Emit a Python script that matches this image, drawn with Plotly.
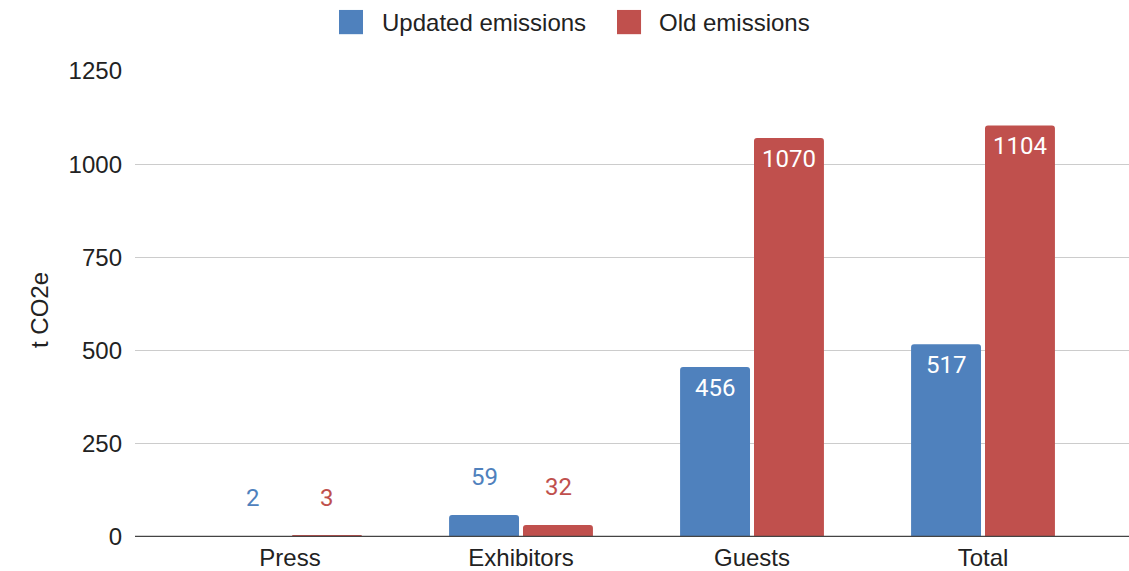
import plotly.graph_objects as go

# Emissions by group, tonnes CO2e
categories = ["Press", "Exhibitors", "Guests", "Total"]
updated_emissions = [2, 59, 456, 517]
old_emissions = [3, 32, 1070, 1104]
series_names = ["Updated emissions", "Old emissions"]
series_colors = ["#4f81bd", "#c0504d"]
y_ticks = [0, 250, 500, 750, 1000, 1250]

axis_font = dict(family="Liberation Sans, Arial, sans-serif", size=24, color="#222222")
label_font_family = "Roboto, sans-serif"

fig = go.Figure()
series_values = [updated_emissions, old_emissions]
for name, vals, color in zip(series_names, series_values, series_colors):
    fig.add_trace(go.Bar(
        x=categories, y=vals, name=name,
        marker=dict(color=color, cornerradius=3, line=dict(width=0)),
        showlegend=False, hoverinfo="x+y",
    ))

# Value labels: white inside tall bars, series-coloured above short ones
annotations = []
offsets = [-37, 37]
for vals, color, dx in zip(series_values, series_colors, offsets):
    for cat, v in zip(categories, vals):
        inside = v > 150
        annotations.append(dict(
            x=cat, y=v, xref="x", yref="y", text=str(v), showarrow=False,
            xshift=dx, yshift=-21 if inside else 38, yanchor="middle",
            font=dict(family=label_font_family, size=24,
                      color="#ffffff" if inside else color),
        ))

# Axis title
annotations.append(dict(
    x=-0.0966, y=0.487, xref="paper", yref="paper", text="t CO2e",
    textangle=-90, showarrow=False, xanchor="center", yanchor="middle",
    font=axis_font,
))

# Legend drawn at the top
legend_items = [(0.2052, 0.2294, 0.2465), (0.4849, 0.5091, 0.5252)]
shapes = []
for (x0, x1, tx), name, color in zip(legend_items, series_names, series_colors):
    shapes.append(dict(type="rect", xref="paper", yref="paper",
                       x0=x0, x1=x1, y0=1.079, y1=1.131,
                       fillcolor=color, line=dict(width=0)))
    annotations.append(dict(x=tx, y=1.105, xref="paper", yref="paper",
                            text=name, showarrow=False, xanchor="left",
                            yanchor="middle", font=axis_font))

# Baseline drawn over the bars
shapes.append(dict(type="line", xref="paper", yref="y", x0=0, x1=1,
                   y0=0, y1=0, layer="above",
                   line=dict(color="#444444", width=2.5)))

fig.update_layout(
    width=1129, height=571,
    margin=dict(l=135, r=0, t=71, b=34, autoexpand=False),
    paper_bgcolor="white", plot_bgcolor="white",
    barmode="group", bargap=0.36, bargroupgap=0.054,
    annotations=annotations, shapes=shapes,
    xaxis=dict(type="category", range=[-0.671, 3.632], showgrid=False,
               showline=False, ticks="", tickfont=axis_font,
               ticklabelstandoff=4, automargin=False),
    yaxis=dict(range=[0, 1250], tickvals=y_ticks, showgrid=True,
               gridcolor="#cccccc", gridwidth=1, zeroline=False,
               showline=False, ticks="", tickfont=axis_font,
               ticklabelstandoff=12, automargin=False),
)

fig.write_html("out.html")
